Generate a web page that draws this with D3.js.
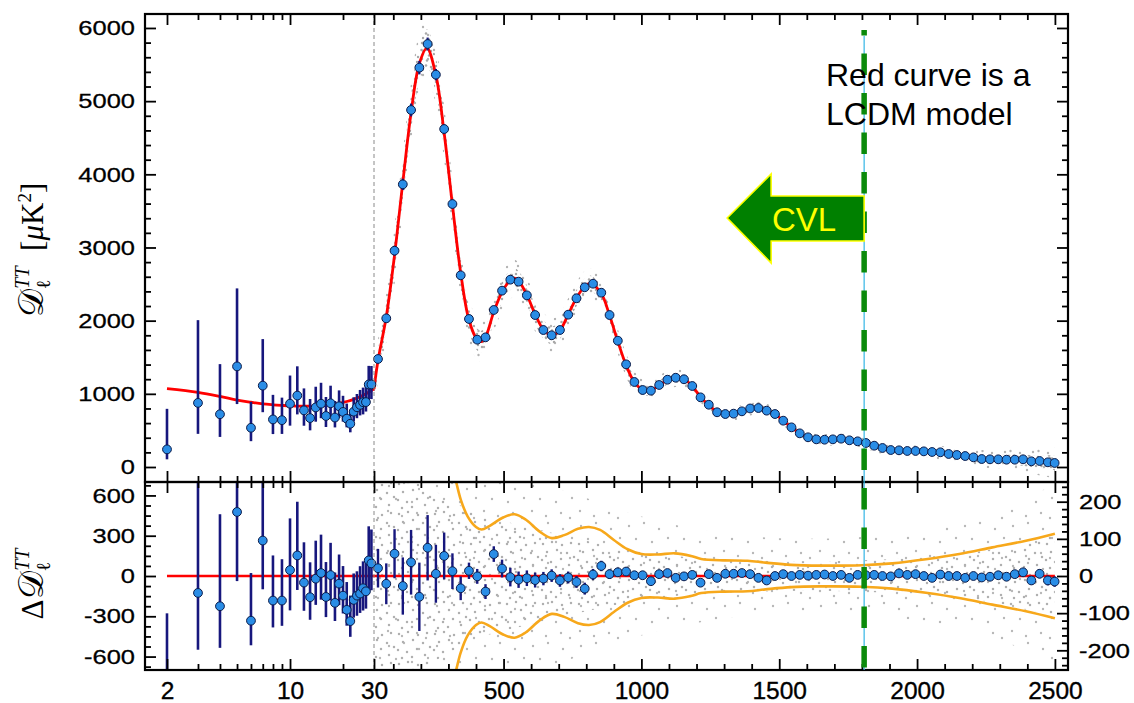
<!DOCTYPE html>
<html><head><meta charset="utf-8">
<script src="https://cdn.jsdelivr.net/npm/d3@7"></script>
<style>body{margin:0;background:#fff;} svg{display:block;}</style>
</head><body>
<svg id="c" width="1134" height="703"></svg>
<script>
// ---------------- DATA ----------------
const lowL = [2,3,4,5,6,7,8,9,10,11,12,13,14,15,16,17,18,19,20,21,22,23,24,25,26,27,28,29];
const lowD = [241,876,721,1375,536,1112,650,640,865,976,774,669,814,865,697,871,676,830,753,660,591,756,817,849,885,887,1128,1128];
const lowErrPlus  = [554,1131,685,1066,355,636,336,308,385,400,300,260,283,286,260,240,226,217,220,207,190,197,181,204,200,248,254,252];
const lowErrMinus = [136,423,310,515,183,363,200,188,300,257,210,168,195,198,150,190,135,160,133,118,117,132,150,144,166,129,224,200];
const lowRes = [-832,-126,-225,477,-333,264,-183,-183,44,153,-49,-158,-20,22,-156,7,-200,-57,-146,-252,-336,-178,-146,-131,-91,-114,116,94];

const binL = [44.5,74.5,104.5,134.5,164.5,194.5,224.5,254.5,284.5,314.5,344.5,374.5,404.5,434.5,464.5,494.5,524.5,554.5,584.5,614.5,644.5,674.5,704.5,734.5,764.5,794.5,824.5,854.5,884.5,914.5,944.5,974.5,1004.5,1034.5,1064.5,1094.5,1124.5,1154.5,1184.5,1214.5,1244.5,1274.5,1304.5,1334.5,1364.5,1394.5,1424.5,1454.5,1484.5,1514.5,1544.5,1574.5,1604.5,1634.5,1664.5,1694.5,1724.5,1754.5,1784.5,1814.5,1844.5,1874.5,1904.5,1934.5,1964.5,1994.5,2024.5,2054.5,2084.5,2114.5,2144.5,2174.5,2204.5,2234.5,2264.5,2294.5,2324.5,2354.5,2384.5,2414.5,2444.5,2474.5,2499];
const binD = [1476,2032,2956,3863,4879,5458,5781,5362,4619,3594,2620,2023,1740,1772,2146,2410,2560,2533,2346,2077,1872,1800,1872,2082,2306,2456,2505,2382,2077,1726,1403,1162,1052,1043,1121,1193,1220,1199,1107,952,851,748,724,729,761,800,806,770,724,633,542,460,406,378,373,378,387,365,351,328,291,260,232,228,219,219,214,205,201,178,164,150,132,109,105,105,100,100,105,78,82,64,55];
const binRes = [21,-21,60,-27,37,-56,76,6,54,13,-33,14,-1,-42,59,20,-3,-10,-6,-11,-7,1,-12,-4,-16,-34,4,27,5,10,12,2,2,-14,5,8,-5,-1,3,-18,5,-5,6,6,8,5,-5,-12,0,5,0,3,1,3,4,0,3,-5,3,2,3,0,-1,7,3,5,0,-5,4,0,0,-5,0,-4,-2,2,-2,5,10,-12,6,-12,-15];
const binErr = [52,55,66,77,87,92,88,78,63,48,32,22,20,20,21,24,25,22,21,20,18,17,17,16,16,16,15,14,13,12,11,10,9,9,8,8,7,7,7,6,6,6,6,5,5,5,5,5,5,5,5,5,5,5,5,5,5,5,5,5,5,5,5,5,5,5,6,6,6,6,6,7,7,7,8,8,9,9,10,11,12,13,14];

const modelLoL = [2,3,4,5,6,7,8,9,10,12,15,18,21,23,25,27,29,30];
const modelLoD = [1070,1020,965,915,885,862,850,842,836,832,835,860,895,925,960,1000,1045,1065];
const modelHiL = [30,44.5,74.5,104.5,134.5,164.5,194.5,222,254.5,284.5,314.5,344.5,374.5,404.5,420,434.5,464.5,494.5,524.5,540,554.5,584.5,614.5,644.5,674.5,704.5,734.5,764.5,794.5,815,854.5,884.5,914.5,944.5,974.5,1004.5,1020,1034.5,1064.5,1094.5,1124.5,1154.5,1184.5,1214.5,1244.5,1274.5,1304.5,1334.5,1364.5,1394.5,1424.5,1454.5,1484.5,1514.5,1544.5,1574.5,1604.5,1634.5,1664.5,1694.5,1724.5,1754.5,1784.5,1814.5,1844.5,1874.5,1904.5,1934.5,1964.5,1994.5,2054.5,2114.5,2174.5,2234.5,2294.5,2354.5,2414.5,2474.5,2500];
const modelHiD = [1065,1455,2053,2896,3890,4842,5514,5725,5356,4565,3581,2653,2009,1741,1715,1775,2120,2390,2555,2580,2545,2352,2088,1879,1800,1870,2086,2310,2470,2510,2370,2072,1716,1391,1160,1055,1040,1045,1115,1188,1215,1198,1107,955,847,752,722,726,757,795,805,776,724,631,542,460,405,377,371,375,383,368,349,327,290,260,233,224,217,214,205,178,150,112,104,99,82,64,58];

const cvlL = [300,327,345,370,400,420,450,500,540,580,630,675,720,770,810,850,900,950,1000,1060,1121,1180,1217,1300,1385,1450,1543,1650,1800,1910,2032,2153,2273,2395,2500];
const cvlV = [330,256,205,160,132,125,135,158,166,152,120,102,110,127,132,124,97,72,59,58,61,54,46,42,41,36,30,28,29,34,45,59,77,95,114];

const scatL = [30,100,220,400,600,800,1000,1300,1600,2000,2300,2500];
const topScatIn  = [130,220,260,150,130,110,70,45,40,40,60,100];
const topScatOut = [260,400,420,280,240,210,140,95,80,80,130,210];
const resScatIn  = [320,280,240,170,130,95,65,45,40,50,75,110];
const resScatOut = [650,550,450,320,260,210,160,115,100,120,170,250];

const cvlEll = 1808;
const topTicksMajor = [0,1000,2000,3000,4000,5000,6000];
const resLTicks = [-600,-300,0,300,600];
const resRTicks = [-200,-100,0,100,200];
const xLogMajor = [2,10,30];
const xLogMinor = [3,4,5,6,7,8,9,20];
const xLinMajor = [500,1000,1500,2000,2500];

// ---------------- LAYOUT ----------------
const L=145, R=1068, T=14, M=482, B=670;
const svg = d3.select("#c");
svg.append("rect").attr("width",1134).attr("height",703).attr("fill","#fff");
const xLog = d3.scaleLog().domain([1.5,30]).range([L,374]);
const xLin = d3.scaleLinear().domain([30,2547.5]).range([374,R]);
const x = l => l <= 30 ? xLog(l) : xLin(l);
const yTop = d3.scaleLinear().domain([-205,6191]).range([M,T]);
const yResL = d3.scaleLinear().domain([-700,700]).range([B,M]);
const yResR = d3.scaleLinear().domain([-253,253]).range([B,M]);

const defs = svg.append("defs");
defs.append("clipPath").attr("id","clipTop").append("rect").attr("x",L).attr("y",T).attr("width",R-L).attr("height",M-T);
defs.append("clipPath").attr("id","clipBot").append("rect").attr("x",L).attr("y",M).attr("width",R-L).attr("height",B-M);
function pattern(id,w,h,pts,col,r){
  const p = defs.append("pattern").attr("id",id).attr("width",w).attr("height",h).attr("patternUnits","userSpaceOnUse");
  pts.forEach(([a,b]) => p.append("circle").attr("cx",a).attr("cy",b).attr("r",r).attr("fill",col));
}
pattern("topDense",20,16,[[1.5,2],[6,1.5],[11,3],[16,2],[3,6],[9,7.5],[14,6],[18,9],[2,11],[7,12.5],[12,10.5],[17,14]],"#a9a9a9",1.25);
pattern("topSparse",28,24,[[3,3],[14,2],[23,7],[8,11],[19,14],[2.5,19],[12,21],[25,20]],"#b3b3b3",1.2);
pattern("botDense",36,30,[[3,4],[12,2],[22,5],[31,3],[7,12],[17,10],[27,13],[34,17],[2,20],[11,22],[21,19],[29,25],[6,28],[16,27]],"#b0b0b0",1.25);
pattern("botSparse",48,40,[[5,6],[20,3],[35,9],[44,18],[12,19],[28,22],[4,31],[18,36],[33,33],[42,38]],"#b8b8b8",1.2);

const gTop = svg.append("g").attr("clip-path","url(#clipTop)");
const gBot = svg.append("g").attr("clip-path","url(#clipBot)");

const sInS = d3.scaleLinear().domain(scatL).range(topScatIn).clamp(true);
const sOutS = d3.scaleLinear().domain(scatL).range(topScatOut).clamp(true);
const idxHi = d3.range(modelHiL.length);
function topBand(sc){
  return d3.area().x(i => x(modelHiL[i]))
    .y0(i => yTop(modelHiD[i] - sc(modelHiL[i])))
    .y1(i => yTop(modelHiD[i] + sc(modelHiL[i])))
    .curve(d3.curveCatmullRom.alpha(0.5))(idxHi);
}
gTop.append("path").attr("d",topBand(sOutS)).attr("fill","url(#topSparse)");
gTop.append("path").attr("d",topBand(sInS)).attr("fill","url(#topDense)");

const idxS = d3.range(scatL.length);
function botBand(arr){
  return d3.area().x(i => x(scatL[i])).y0(i => yResR(-arr[i])).y1(i => yResR(arr[i])).curve(d3.curveMonotoneX)(idxS);
}
gBot.append("path").attr("d",botBand(resScatOut)).attr("fill","url(#botSparse)");
gBot.append("path").attr("d",botBand(resScatIn)).attr("fill","url(#botDense)");

const idxC = d3.range(cvlL.length);
[1,-1].forEach(s => {
  gBot.append("path").attr("d", d3.line().x(i => x(cvlL[i])).y(i => yResR(s*cvlV[i])).curve(d3.curveCatmullRom.alpha(0.5))(idxC))
    .attr("fill","none").attr("stroke","#f7a81b").attr("stroke-width",2.6);
});

svg.append("line").attr("x1",x(30)).attr("x2",x(30)).attr("y1",T).attr("y2",B)
  .attr("stroke","#8a8a8a").attr("stroke-width",1).attr("stroke-dasharray","4,3");

const idxLo = d3.range(modelLoL.length);
gTop.append("path").attr("d", d3.line().x(i => x(modelLoL[i])).y(i => yTop(modelLoD[i])).curve(d3.curveCatmullRom.alpha(0.5))(idxLo))
  .attr("fill","none").attr("stroke","#ff0000").attr("stroke-width",2.8);
gTop.append("path").attr("d", d3.line().x(i => x(modelHiL[i])).y(i => yTop(modelHiD[i])).curve(d3.curveCatmullRom.alpha(0.5))(idxHi))
  .attr("fill","none").attr("stroke","#ff0000").attr("stroke-width",2.8);
gBot.append("line").attr("x1",x(2)).attr("x2",x(2500)).attr("y1",yResL(0)).attr("y2",yResL(0))
  .attr("stroke","#ff0000").attr("stroke-width",2.6);

const barCol = "#17177d", ptFill = "#2a8de6", ptStroke = "#0b1a48";
function points(g, xs, ys, yLo, yHi, bw){
  g.append("g").selectAll("line").data(xs).join("line")
    .attr("x1",d=>x(d)).attr("x2",d=>x(d))
    .attr("y1",(d,i)=>yLo[i]).attr("y2",(d,i)=>yHi[i])
    .attr("stroke",barCol).attr("stroke-width",bw);
  g.append("g").selectAll("circle").data(xs).join("circle")
    .attr("cx",d=>x(d)).attr("cy",(d,i)=>ys[i]).attr("r",4.4)
    .attr("fill",ptFill).attr("stroke",ptStroke).attr("stroke-width",1);
}
points(gTop, lowL, lowD.map(v=>yTop(v)), lowD.map((v,i)=>yTop(v-lowErrMinus[i])), lowD.map((v,i)=>yTop(v+lowErrPlus[i])), 2.6);
points(gTop, binL, binD.map(v=>yTop(v)), binD.map((v,i)=>yTop(v-binErr[i])), binD.map((v,i)=>yTop(v+binErr[i])), 2.2);
points(gBot, lowL, lowRes.map(v=>yResL(v)), lowRes.map((v,i)=>yResL(v-lowErrMinus[i])), lowRes.map((v,i)=>yResL(v+lowErrPlus[i])), 2.6);
points(gBot, binL, binRes.map(v=>yResR(v)), binRes.map((v,i)=>yResR(v-binErr[i])), binRes.map((v,i)=>yResR(v+binErr[i])), 2.4);

// ---------------- AXES ----------------
const FONT = "'Liberation Sans', Arial, Helvetica, sans-serif";
function drawAxis(gen, scale, vals, size, tx, ty, fmt, pad, sy){
  const a = gen(scale).tickValues(vals).tickSize(size).tickPadding(pad||3).tickFormat(fmt || (()=>""));
  const g = svg.append("g").attr("transform",`translate(${tx},${ty})`).call(a);
  g.select(".domain").remove();
  g.selectAll("line").attr("stroke","#000").attr("stroke-width",1.8);
  g.attr("font-family",FONT).attr("font-size",sy ? 25.5 : 24.5);
  g.selectAll("text").attr("fill","#000").attr("stroke","#000").attr("stroke-width",0.35);
  if (sy) g.selectAll("text").attr("transform",`scale(1,${sy})`);
  return g;
}
const fmtPlain = d => String(d);
const MAJ = 11, MIN = 6;
const linMinor = d3.range(100,2500,100).filter(v => v % 500 !== 0);
[[T, d3.axisTop],[M, d3.axisBottom],[M, d3.axisTop],[B, d3.axisBottom]].forEach(([yy,gen],k) => {
  const lab = (k===3);
  drawAxis(gen, xLog, xLogMajor, -MAJ, 0, yy, lab?fmtPlain:null, 12);
  drawAxis(gen, xLog, xLogMinor, -MIN, 0, yy);
  drawAxis(gen, xLin, xLinMajor, -MAJ, 0, yy, lab?fmtPlain:null, 12);
  drawAxis(gen, xLin, linMinor, -MIN, 0, yy);
});
const topMinor = d3.range(-200,6200,200).filter(v => v % 1000 !== 0 && v > -205);
drawAxis(d3.axisLeft, yTop, topTicksMajor, -MAJ, L, 0, fmtPlain, 10, 0.82);
drawAxis(d3.axisLeft, yTop, topMinor, -MIN, L, 0);
drawAxis(d3.axisRight, yTop, topTicksMajor, -MAJ, R, 0);
drawAxis(d3.axisRight, yTop, topMinor, -MIN, R, 0);
const resLMinor = d3.range(-675,700,75).filter(v => v % 300 !== 0);
drawAxis(d3.axisLeft, yResL, resLTicks, -MAJ, L, 0, fmtPlain, 10, 0.82);
drawAxis(d3.axisLeft, yResL, resLMinor, -MIN, L, 0);
const resRMinor = d3.range(-240,260,20).filter(v => v % 100 !== 0);
drawAxis(d3.axisRight, yResR, resRTicks, -MAJ, R, 0, fmtPlain, 11, 0.82);
drawAxis(d3.axisRight, yResR, resRMinor, -MIN, R, 0);

svg.append("rect").attr("x",L).attr("y",T).attr("width",R-L).attr("height",M-T).attr("fill","none").attr("stroke","#000").attr("stroke-width",2.2);
svg.append("rect").attr("x",L).attr("y",M).attr("width",R-L).attr("height",B-M).attr("fill","none").attr("stroke","#000").attr("stroke-width",2.2);

const SERIF = "'Liberation Serif','DejaVu Serif','Times New Roman',serif";
function yTitle(cx, cy, prefix, units){
  const t = svg.append("text").attr("transform",`translate(${cx},${cy}) rotate(-90)`)
    .attr("text-anchor","middle").attr("font-family",SERIF).attr("font-size",31).attr("fill","#000");
  if (prefix) t.append("tspan").text(prefix);
  t.append("tspan").text("\u{1D49F}").attr("font-size",35);
  t.append("tspan").text("\u2113").attr("font-size",20).attr("dy",7);
  t.append("tspan").text("TT").attr("font-size",20).attr("font-style","italic").attr("dx",-9).attr("dy",-21);
  if (units){
    t.append("tspan").text("\u2002[").attr("dy",14);
    t.append("tspan").text("\u03BC").attr("font-style","italic");
    t.append("tspan").text("K");
    t.append("tspan").text("2").attr("font-size",19).attr("dy",-12);
    t.append("tspan").text("]").attr("dy",12);
  }
}
yTitle(43, 250, null, true);
yTitle(43, 584, "\u0394", false);

// ---------------- ANNOTATIONS ----------------
const gx = x(cvlEll);
svg.append("line").attr("x1",gx).attr("x2",gx).attr("y1",36).attr("y2",B)
  .attr("stroke","#33b5e5").attr("stroke-width",1.2);
svg.append("line").attr("x1",gx).attr("x2",gx).attr("y1",30).attr("y2",B)
  .attr("stroke","#0b8a0b").attr("stroke-width",5.5).attr("stroke-dasharray","21.5,18").attr("stroke-dashoffset",16);

svg.append("path")
  .attr("d",`M${gx-137},218 L${gx-93},174 L${gx-93},196 L${gx},196 L${gx},241 L${gx-93},241 L${gx-93},263 Z`)
  .attr("fill","#008000").attr("stroke","#ffff00").attr("stroke-width",1.6);
svg.append("text").attr("x",gx-60).attr("y",231).attr("text-anchor","middle")
  .attr("font-family",FONT).attr("font-size",33).attr("fill","#ffff00").text("CVL");

svg.append("text").attr("x",826).attr("y",86).attr("font-family",FONT).attr("font-size",32).attr("fill","#000").text("Red curve is a");
svg.append("text").attr("x",826).attr("y",125).attr("font-family",FONT).attr("font-size",32).attr("fill","#000").text("LCDM model");
</script></body></html>
